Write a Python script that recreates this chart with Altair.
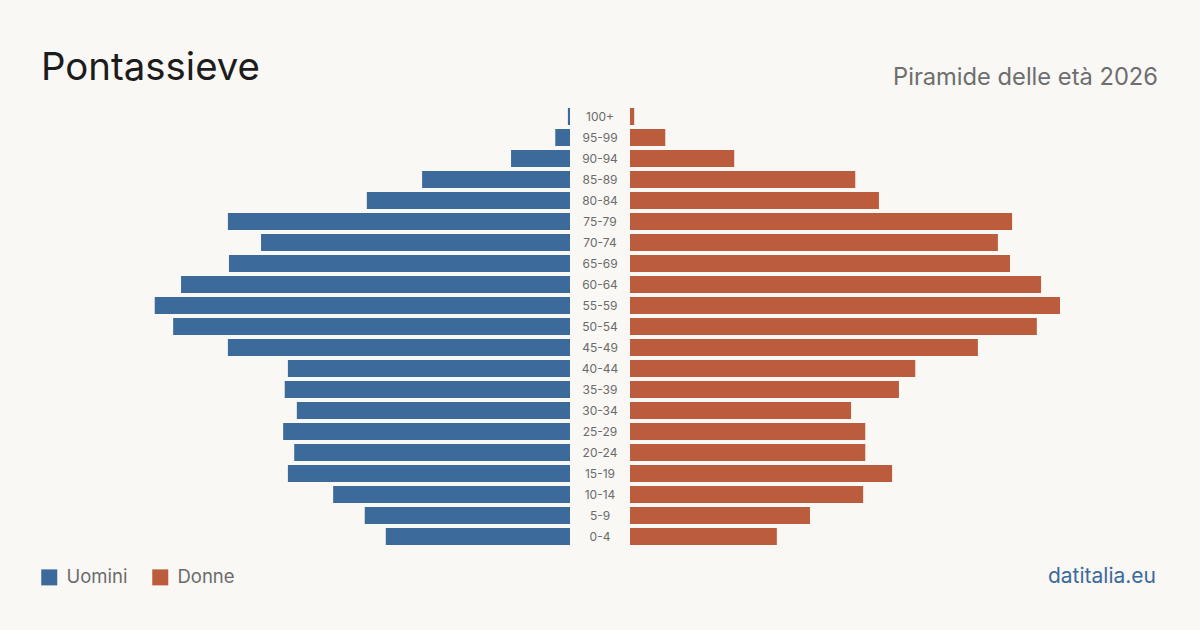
import altair as alt
import pandas as pd

# Population by five-year age class, top row first
ages = ["100+", "95-99", "90-94", "85-89", "80-84", "75-79", "70-74", "65-69",
        "60-64", "55-59", "50-54", "45-49", "40-44", "35-39", "30-34", "25-29",
        "20-24", "15-19", "10-14", "5-9", "0-4"]
men = [4, 28, 112, 281, 386, 650, 587, 648, 739, 789, 754, 650, 536, 542,
       519, 545, 524, 536, 450, 390, 350]
women = [8, 67, 198, 428, 473, 726, 699, 722, 781, 817, 773, 661, 542, 511,
         420, 447, 447, 498, 443, 342, 279]
sexes = ["Uomini", "Donne"]

title_text = "Pontassieve"
subtitle_text = "Piramide delle età 2026"
source_text = "datitalia.eu"

BLUE = "#3b6a9b"
ORANGE = "#bb5d3c"
BG = "#f9f8f4"
FONT = "Inter"

rows = []
for a, m, w in zip(ages, men, women):
    rows.append({"age": a, "sex": sexes[0], "value": m})
    rows.append({"age": a, "sex": sexes[1], "value": w})
df = pd.DataFrame(rows)

xmax = 1083
yscale = alt.Scale(paddingInner=0.19, paddingOuter=0.095)
ycode = alt.Y("age:N", sort=ages, axis=None, scale=yscale)
color = alt.Color(
    "sex:N",
    scale=alt.Scale(domain=sexes, range=[BLUE, ORANGE]),
    legend=alt.Legend(
        title=None, orient="none", direction="horizontal",
        legendX=40, legendY=568, symbolType="square", symbolSize=256,
        symbolStrokeWidth=0, symbolOpacity=1, labelFontSize=18.5,
        labelColor="#6b6b6b", labelFont=FONT, labelOffset=8,
        columnPadding=23, padding=0,
    ),
)

left = alt.Chart(df).transform_filter(alt.datum.sex == sexes[0]).mark_bar().encode(
    x=alt.X("value:Q", scale=alt.Scale(domain=[0, xmax], reverse=True, nice=False), axis=None),
    y=ycode,
    color=color,
).properties(width=570, height=441)

right = alt.Chart(df).transform_filter(alt.datum.sex == sexes[1]).mark_bar().encode(
    x=alt.X("value:Q", scale=alt.Scale(domain=[0, xmax], nice=False), axis=None),
    y=ycode,
    color=color,
).properties(width=570, height=441)

labels = alt.Chart(pd.DataFrame({"age": ages})).mark_text(
    fontSize=12, color="#6b6b6b", font=FONT
).encode(
    x=alt.value(30),
    y=ycode,
    text="age:N",
).properties(width=60, height=441)

pyramid = alt.hconcat(left, labels, right, spacing=0)

header_title = alt.Chart(pd.DataFrame({"t": [title_text]})).mark_text(
    align="left", baseline="alphabetic", fontSize=38.4, color="#1c1c1c", font=FONT
).encode(x=alt.value(41), y=alt.value(80), text="t:N")
header_sub = alt.Chart(pd.DataFrame({"t": [subtitle_text]})).mark_text(
    align="right", baseline="alphabetic", fontSize=23.7, color="#6e6e6e", font=FONT
).encode(x=alt.value(1158), y=alt.value(85), text="t:N")
header = alt.layer(header_title, header_sub).properties(width=1200, height=106)

footer = alt.Chart(pd.DataFrame({"t": [source_text]})).mark_text(
    align="right", baseline="alphabetic", fontSize=21, color=BLUE, font=FONT
).encode(x=alt.value(1156), y=alt.value(36), text="t:N").properties(width=1200, height=83)

chart = alt.vconcat(header, pyramid, footer, spacing=0).properties(
    padding=0, background=BG
).configure_view(stroke=None).configure_concat(spacing=0)

chart.save("out.html", embed_options={"renderer": "svg", "actions": False})
